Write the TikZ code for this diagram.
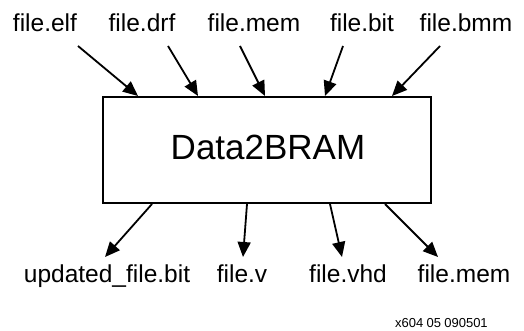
\documentclass[tikz,border=0pt]{standalone}
\usepackage{fontspec}
\setmainfont{Liberation Sans}
\usetikzlibrary{arrows.meta}
\begin{document}
\begin{tikzpicture}[x=1pt,y=-1pt,
  lbl/.style={anchor=base,inner sep=0pt,font=\fontsize{24.5}{28}\selectfont},
  flow/.style={line width=1.8pt,-{Triangle[length=15pt,width=13pt]}},
  blk/.style={draw,line width=2pt,inner sep=0pt}]
\useasboundingbox (0,0) rectangle (524,331);
% box
\draw[blk] (103,97) rectangle (431,203);
\node[inner sep=0pt,anchor=base,font=\fontsize{35}{40}\selectfont] (box) at (268,160) {Data2BRAM};
% top labels
\node[lbl] (elf) at (45,32) {file.elf};
\node[lbl] (drf) at (142,32) {file.drf};
\node[lbl] (mem) at (254,32) {file.mem};
\node[lbl] (bit) at (362,32) {file.bit};
\node[lbl] (bmm) at (466,32) {file.bmm};
% bottom labels
\node[lbl] (upd) at (107,282) {updated\_file.bit};
\node[lbl] (v) at (242,282) {file.v};
\node[lbl] (vhd) at (348,282) {file.vhd};
\node[lbl] (omem) at (464,282) {file.mem};
\node[anchor=base west,inner sep=0pt,font=\fontsize{13}{15}\selectfont] (id) at (395,327) {x604\hspace{0.25em}05\hspace{0.25em}090501};
% coordinates
\coordinate (s1) at (78,46); \coordinate (t1) at (138,96);
\coordinate (s2) at (168,46); \coordinate (t2) at (198,96);
\coordinate (s3) at (240,46); \coordinate (t3) at (265,96);
\coordinate (s4) at (343,46); \coordinate (t4) at (325,96);
\coordinate (s5) at (440,46); \coordinate (t5) at (392,96);
\coordinate (b1) at (152,204); \coordinate (e1) at (105,257);
\coordinate (b2) at (247,204); \coordinate (e2) at (243,257);
\coordinate (b3) at (330,204); \coordinate (e3) at (342,257);
\coordinate (b4) at (385,204); \coordinate (e4) at (438,257);
\draw[flow] (s1) -- (t1);
\draw[flow] (s2) -- (t2);
\draw[flow] (s3) -- (t3);
\draw[flow] (s4) -- (t4);
\draw[flow] (s5) -- (t5);
\draw[flow] (b1) -- (e1);
\draw[flow] (b2) -- (e2);
\draw[flow] (b3) -- (e3);
\draw[flow] (b4) -- (e4);
\end{tikzpicture}
\end{document}
